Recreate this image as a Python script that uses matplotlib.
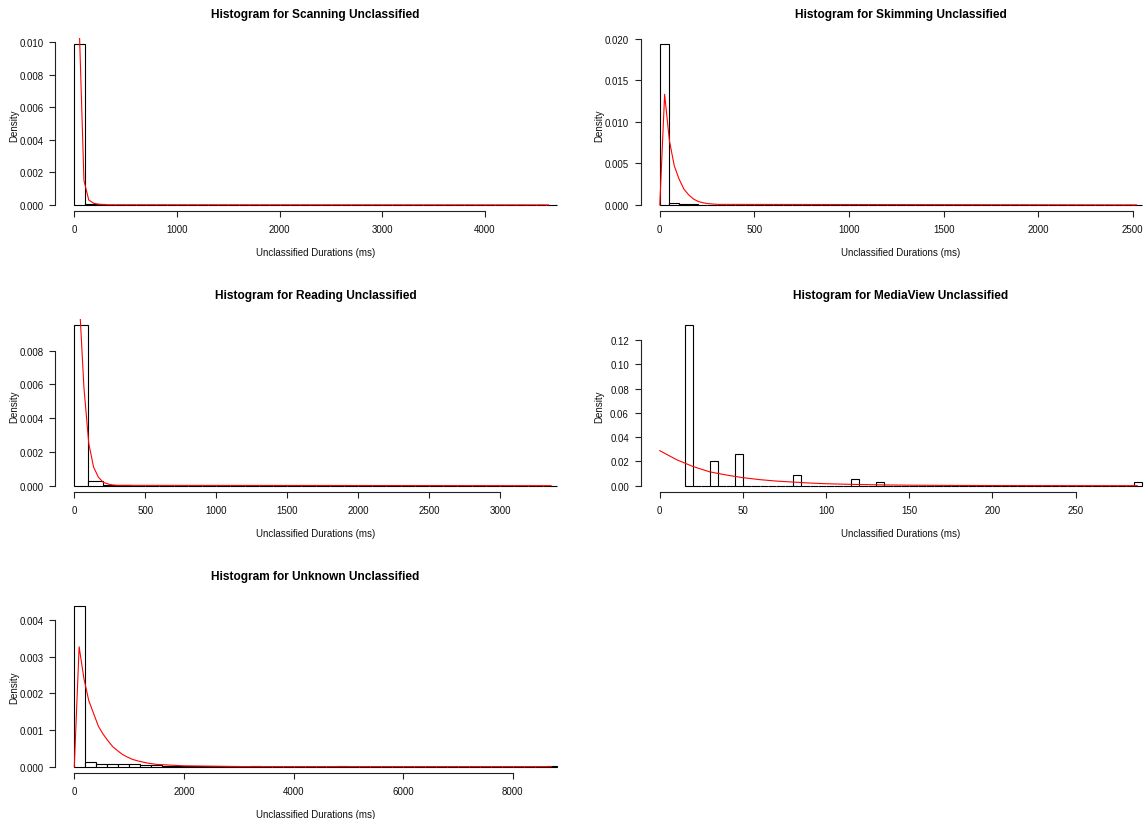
import numpy as np
import matplotlib
matplotlib.use("Agg")
import matplotlib.pyplot as plt

plt.rcParams['font.family'] = ['Liberation Sans', 'DejaVu Sans']

# ---------------- data ----------------
titles = ["Histogram for Scanning Unclassified",
          "Histogram for Skimming Unclassified",
          "Histogram for Reading Unclassified",
          "Histogram for MediaView Unclassified",
          "Histogram for Unknown Unclassified"]
x_label = "Unclassified Durations (ms)"
y_label = "Density"

# histogram breaks: first break, bin width, last break
scan_breaks = (0, 100, 4700)
skim_breaks = (0, 50, 2550)
read_breaks = (0, 100, 3400)
media_breaks = (15, 5, 290)
unknown_breaks = (0, 200, 8800)

scan_density = [0.00985, 0.00008, 0.00003, 0.00002, 0.000005, 0, 0, 0, 0, 0,
                0, 0, 0, 0, 0, 0, 0, 0, 0, 0,
                0, 0, 0, 0, 0, 0, 0, 0, 0, 0,
                0, 0, 0, 0, 0, 0, 0, 0, 0, 0,
                0, 0, 0, 0, 0, 0, 0.000002]
skim_density = [0.0193, 0.00024, 0.00015, 0.00006, 0.00003, 0.00002, 0, 0, 0.000008, 0,
                0, 0, 0, 0, 0.000008, 0, 0.000008, 0, 0, 0,
                0, 0, 0, 0, 0, 0.000008, 0, 0, 0, 0,
                0, 0, 0, 0, 0, 0, 0, 0, 0, 0,
                0.000008, 0, 0, 0, 0.000008, 0, 0, 0, 0, 0, 0.000008]
read_density = [0.00951, 0.00028, 0.00006, 0.00002, 0.00001, 0.000005, 0.000005, 0, 0.000005, 0,
                0, 0, 0.000005, 0, 0.000005, 0, 0, 0, 0, 0,
                0, 0, 0, 0, 0, 0, 0, 0, 0, 0,
                0, 0, 0, 0.000005]
media_density = [0.1324, 0, 0, 0.0206, 0, 0, 0.0265, 0, 0, 0,
                 0, 0, 0, 0.0088, 0, 0, 0, 0, 0, 0,
                 0.0059, 0, 0, 0.0029, 0, 0, 0, 0, 0, 0,
                 0, 0, 0, 0, 0, 0, 0, 0, 0, 0,
                 0, 0, 0, 0, 0, 0, 0, 0, 0, 0,
                 0, 0, 0, 0, 0.0029]
unknown_density = [0.00438, 0.00012, 0.00008, 0.00008, 0.00006, 0.00007, 0.00005, 0.00004, 0.00002, 0.00002,
                   0.00002, 0.00001, 0.00001, 0.000005, 0.000005, 0, 0.000005, 0, 0, 0,
                   0, 0, 0, 0, 0.000005, 0, 0, 0, 0, 0,
                   0, 0, 0, 0, 0, 0, 0, 0, 0, 0,
                   0, 0, 0, 0.000005]

# fitted density curves (red)
scan_curve_x = [47, 94, 141, 188, 235, 282, 329, 4620]
scan_curve_y = [0.0112, 0.0015, 0.0003, 0.0001, 0.00004, 0.00002, 0.00001, 0.0]
skim_curve_x = [0, 25.5, 51, 76.5, 102, 127.5, 153, 178.5, 204, 229.5, 255, 280.5, 306, 2520]
skim_curve_y = [0.0, 0.0133, 0.0077, 0.0047, 0.0031, 0.0019, 0.0012, 0.0007, 0.0004, 0.00025,
                0.00015, 0.0001, 0.00006, 0.0]
read_curve_x = [34, 68, 102, 136, 170, 204, 238, 272, 306, 3360]
read_curve_y = [0.0112, 0.0058, 0.0025, 0.0011, 0.0005, 0.0002, 0.0001, 0.00004, 0.00002, 0.0]
media_curve_x = [0, 10, 20, 30, 40, 50, 60, 70, 80, 90, 100, 115, 130, 150, 175, 200, 250, 287]
media_curve_y = [0.0289, 0.0215, 0.0158, 0.0114, 0.0088, 0.0066, 0.0050, 0.0038, 0.0030, 0.0022,
                 0.0016, 0.0011, 0.0007, 0.0004, 0.0002, 0.0001, 0.00002, 0.0]
unknown_curve_x = [0, 88, 176, 264, 352, 440, 528, 616, 704, 792, 880, 968, 1056, 1144, 1232,
                   1320, 1500, 2000, 3000, 8700]
unknown_curve_y = [0.0, 0.00327, 0.0024, 0.0018, 0.00145, 0.0011, 0.00088, 0.0007, 0.00054, 0.00043,
                   0.00033, 0.00026, 0.0002, 0.00016, 0.00013, 0.0001, 0.00006, 0.00002, 0.0, 0.0]

# axis ranges and ticks
scan_xrange, skim_xrange, read_xrange = (0, 4700), (0, 2550), (0, 3400)
media_xrange, unknown_xrange = (0, 290), (0, 8800)
scan_xticks = [0, 1000, 2000, 3000, 4000]
skim_xticks = [0, 500, 1000, 1500, 2000, 2500]
read_xticks = [0, 500, 1000, 1500, 2000, 2500, 3000]
media_xticks = [0, 50, 100, 150, 200, 250]
unknown_xticks = [0, 2000, 4000, 6000, 8000]
scan_yticks = [0.000, 0.002, 0.004, 0.006, 0.008, 0.010]
skim_yticks = [0.000, 0.005, 0.010, 0.015, 0.020]
read_yticks = [0.000, 0.002, 0.004, 0.006, 0.008]
media_yticks = [0.00, 0.02, 0.04, 0.06, 0.08, 0.10, 0.12]
unknown_yticks = [0.000, 0.001, 0.002, 0.003, 0.004]
scan_ylabels = ["0.000", "0.002", "0.004", "0.006", "0.008", "0.010"]
skim_ylabels = ["0.000", "0.005", "0.010", "0.015", "0.020"]
read_ylabels = ["0.000", "0.002", "0.004", "0.006", "0.008"]
media_ylabels = ["0.00", "0.02", "0.04", "0.06", "0.08", "0.10", "0.12"]
unknown_ylabels = ["0.000", "0.001", "0.002", "0.003", "0.004"]

# ---------------- layout ----------------
W, H = 1144, 820
fig = plt.figure(figsize=(W / 100, H / 100), dpi=100)
fig.patch.set_facecolor('white')

col_left = [55, 640.5]
row_top = [39, 319.8, 600.7]
ax_w, ax_h = 521, 173.3
ink = '#222222'

panels = [
    (titles[0], scan_breaks, scan_density, scan_curve_x, scan_curve_y, scan_xrange,
     scan_xticks, scan_yticks, scan_ylabels, 0, 0),
    (titles[1], skim_breaks, skim_density, skim_curve_x, skim_curve_y, skim_xrange,
     skim_xticks, skim_yticks, skim_ylabels, 0, 1),
    (titles[2], read_breaks, read_density, read_curve_x, read_curve_y, read_xrange,
     read_xticks, read_yticks, read_ylabels, 1, 0),
    (titles[3], media_breaks, media_density, media_curve_x, media_curve_y, media_xrange,
     media_xticks, media_yticks, media_ylabels, 1, 1),
    (titles[4], unknown_breaks, unknown_density, unknown_curve_x, unknown_curve_y, unknown_xrange,
     unknown_xticks, unknown_yticks, unknown_ylabels, 2, 0),
]

for (title, brk, dens, cx, cy, xr, xt, yt, ylab, row, col) in panels:
    left = col_left[col]
    top = row_top[row]
    ax = fig.add_axes([left / W, 1 - (top + ax_h) / H, ax_w / W, ax_h / H])
    ax.set_facecolor('none')
    dens = np.asarray(dens, dtype=float)
    start, bw, _ = brk
    edges = start + bw * np.arange(len(dens))
    ax.bar(edges, dens, width=bw, align='edge', facecolor='white',
           edgecolor='black', linewidth=0.8)
    ax.plot(cx, cy, color='red', linewidth=0.8)

    r = xr[1] - xr[0]
    ax.set_xlim(xr[0] - 0.04 * r, xr[1] + 0.04 * r)
    m = dens.max()
    ax.set_ylim(-0.04 * m, 1.04 * m)

    ax.set_xticks(xt)
    ax.set_xticklabels([str(v) for v in xt])
    ax.set_yticks(yt)
    ax.set_yticklabels(ylab)

    for s in ('top', 'right'):
        ax.spines[s].set_visible(False)
    ax.spines['left'].set_bounds(yt[0], yt[-1])
    ax.spines['bottom'].set_bounds(xt[0], xt[-1])
    for s in ('left', 'bottom'):
        ax.spines[s].set_color(ink)
        ax.spines[s].set_linewidth(0.8)

    ax.tick_params(axis='both', direction='out', length=4.3, width=0.8,
                   colors=ink, labelsize=7, labelcolor='#111111')
    ax.tick_params(axis='y', pad=4)
    ax.tick_params(axis='x', pad=5)

    ax.set_title(title, fontsize=8.6, fontweight='bold', y=1 + 24 / ax_h,
                 va='center', pad=0, color='black')
    ax.set_xlabel(x_label, fontsize=7, va='center', color='#111111')
    ax.xaxis.set_label_coords(0.5, -41 / ax_h)
    ax.set_ylabel(y_label, fontsize=7, va='center', color='#111111')
    ax.yaxis.set_label_coords(-41 / ax_w, 0.5)

fig.savefig("out.png", dpi=100)
